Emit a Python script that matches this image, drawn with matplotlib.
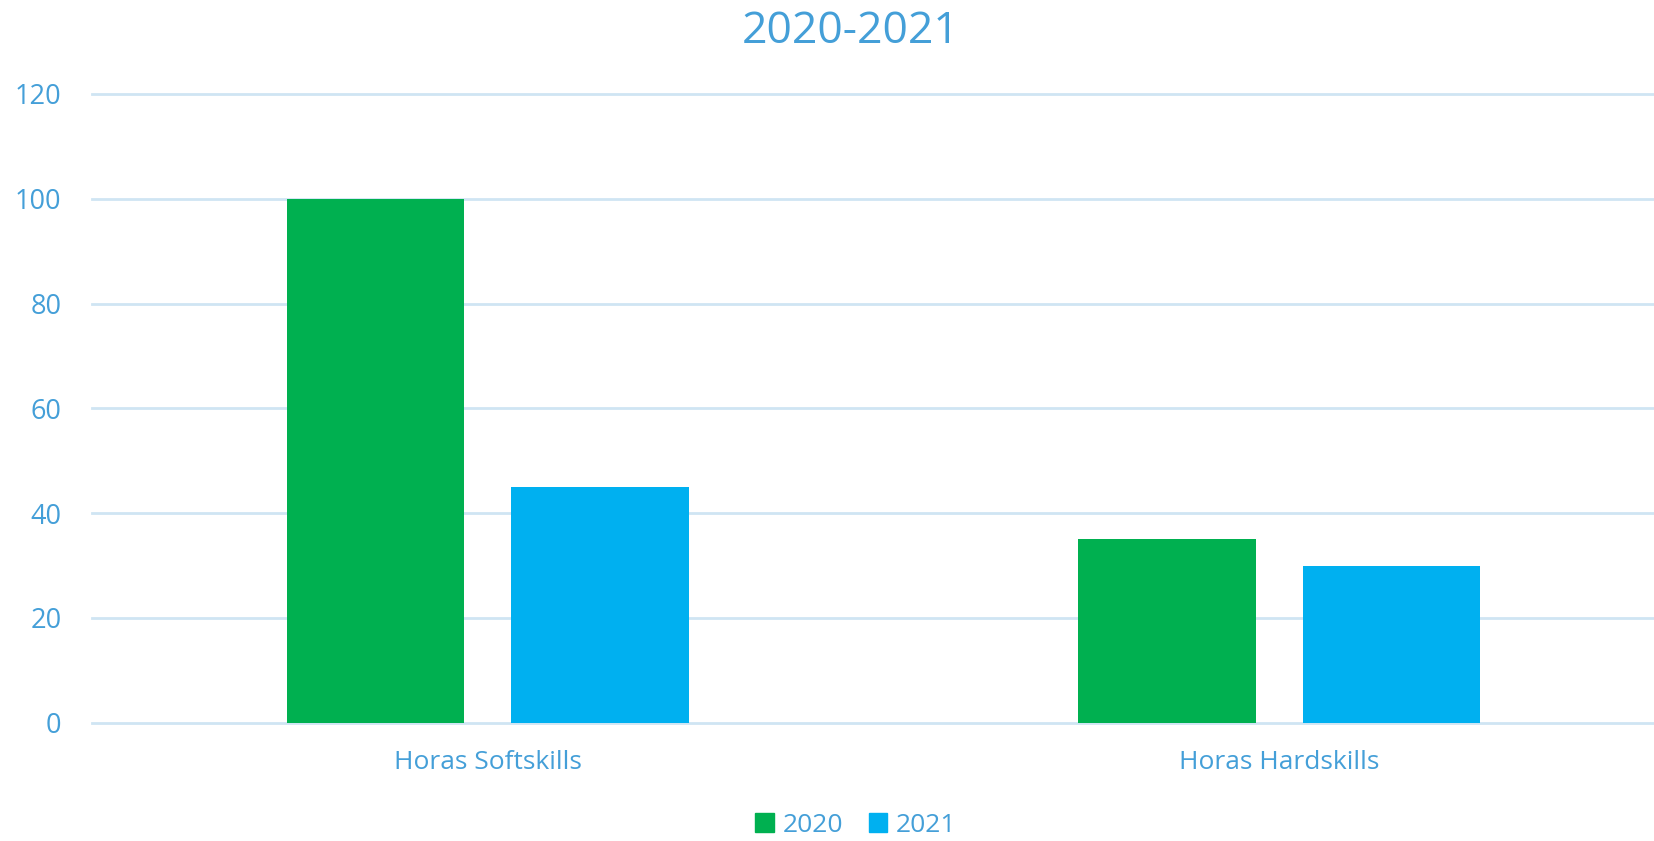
import matplotlib.pyplot as plt
from matplotlib.patches import Patch
import numpy as np

# Chart data
categories = ['Horas Softskills', 'Horas Hardskills']
series_names = ['2020', '2021']
values_2020 = [100, 35]
values_2021 = [45, 30]
y_ticks = [0, 20, 40, 60, 80, 100, 120]

green = '#00B050'
blue = '#00B0F0'
text_color = '#449FD8'
grid_color = '#CFE5F3'

plt.rcParams['font.family'] = ['Open Sans', 'DejaVu Sans']

W, H = 1654, 841
fig = plt.figure(figsize=(W / 100, H / 100), dpi=100)

# Plot area placed in pixels (right edge runs past the figure like the reference)
left, right, bottom, top = 92, 1675, 722.7, 94
ax = fig.add_axes([left / W, 1 - bottom / H, (right - left) / W, (bottom - top) / H])

x = np.arange(len(categories))
width = 0.224
offset = 0.142
ax.bar(x - offset, values_2020, width, color=green, zorder=3)
ax.bar(x + offset, values_2021, width, color=blue, zorder=3)

ax.set_xlim(-0.5, 1.5)
ax.set_ylim(0, 120)
ax.set_yticks(y_ticks)
ax.set_xticks(x)
ax.set_xticklabels(categories)
ax.yaxis.grid(True, color=grid_color, linewidth=2, zorder=0)
ax.set_axisbelow(True)
# keep the 0 and 120 gridlines full thickness at the axes edges
for gl in ax.get_ygridlines():
    gl.set_clip_on(False)
for s in ax.spines.values():
    s.set_visible(False)
ax.tick_params(axis='both', length=0, labelcolor=text_color)
ax.tick_params(axis='y', pad=22, labelsize=19.5)
ax.tick_params(axis='x', pad=20, labelsize=19)

fig.text(851 / W, 1 - 32 / H, '2020-2021', ha='center', va='center',
         fontsize=32, color=text_color)

handles = [Patch(color=green, label=series_names[0]),
           Patch(color=blue, label=series_names[1])]
fig.legend(handles=handles, loc='center', bbox_to_anchor=(856 / W, 1 - 825 / H),
           ncol=2, frameon=False, fontsize=19, labelcolor=text_color,
           handlelength=0.7, handleheight=0.7, handletextpad=0.35,
           columnspacing=0.95)

fig.savefig('out.png', dpi=100)
